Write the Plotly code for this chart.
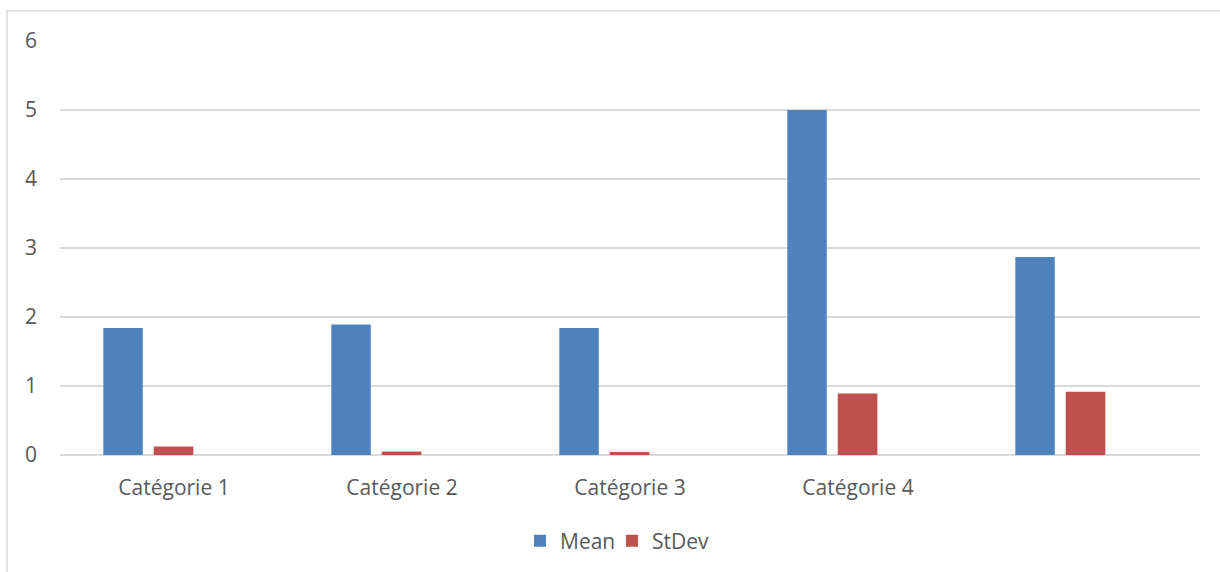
import plotly.graph_objects as go

# Chart data
categories = ["Catégorie 1", "Catégorie 2", "Catégorie 3", "Catégorie 4", ""]
mean_values = [1.84, 1.89, 1.84, 5.0, 2.87]
stdev_values = [0.125, 0.05, 0.045, 0.89, 0.915]
y_ticks = [0, 1, 2, 3, 4, 5, 6]

BLUE = "#4f81bd"
RED = "#c0504d"
GRID = "#d9d9d9"
TEXT = "#595959"
FONT = "Open Sans"

W, H = 1220, 572
L, R, T, B = 60, 20, 41, 116

x_pos = list(range(len(categories)))

fig = go.Figure()
fig.add_trace(go.Bar(
    x=x_pos, y=mean_values, name="Mean",
    marker=dict(color=BLUE, line=dict(width=0)),
    width=0.173, offset=-0.31, legend="legend",
))
fig.add_trace(go.Bar(
    x=x_pos, y=stdev_values, name="StDev",
    marker=dict(color=RED, line=dict(width=0)),
    width=0.174, offset=-0.089, legend="legend2",
))

# outer chart frame (left and top edges visible)
pw, ph = W - L - R, H - T - B
fig.add_shape(
    type="rect", xref="paper", yref="paper",
    x0=(7 - L) / pw, x1=(W + 5 - L) / pw,
    y0=-(H + 5 - T - ph) / ph, y1=(ph + T - 11) / ph,
    line=dict(color=GRID, width=1.5), fillcolor="rgba(0,0,0,0)", layer="below",
)

legend_style = dict(
    orientation="h", yanchor="middle", y=-0.205, xanchor="left",
    font=dict(family=FONT, size=21, color=TEXT), itemwidth=30,
    bgcolor="rgba(0,0,0,0)",
)

fig.update_layout(
    width=W, height=H,
    margin=dict(l=L, r=R, t=T, b=B, pad=0),
    paper_bgcolor="white", plot_bgcolor="white",
    barmode="overlay",
    font=dict(family=FONT, size=21, color=TEXT),
    showlegend=True,
    legend=dict(legend_style, x=0.4035),
    legend2=dict(legend_style, x=0.4842),
    xaxis=dict(
        range=[-0.5, len(categories) - 0.5],
        tickmode="array", tickvals=x_pos, ticktext=categories,
        showgrid=False, showline=False, zeroline=False,
        ticks="", ticklabelstandoff=18,
        tickfont=dict(family=FONT, size=21, color=TEXT),
    ),
    yaxis=dict(
        range=[0, 6], tickmode="array", tickvals=y_ticks,
        showgrid=True, gridcolor=GRID, gridwidth=1.5,
        zeroline=True, zerolinecolor=GRID, zerolinewidth=1.5,
        showline=False, ticks="", ticklabelstandoff=22,
        tickfont=dict(family=FONT, size=21, color=TEXT),
    ),
)

fig.write_html("out.html")
